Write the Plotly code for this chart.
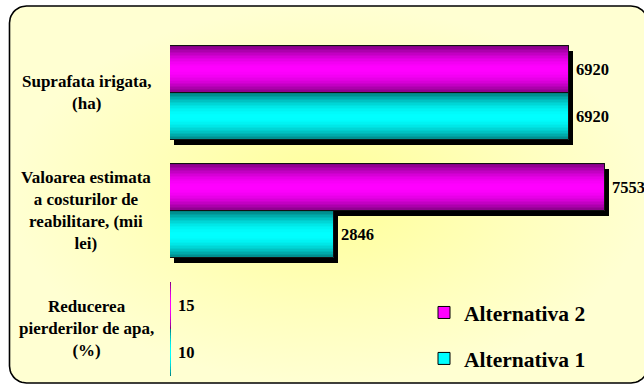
import numpy as np
import plotly.graph_objects as go

# ---- data -----------------------------------------------------------------
categories = [
    "Suprafata irigata,<br>(ha)",
    "Valoarea estimata<br>a costurilor de<br>reabilitare, (mii<br>lei)",
    "Reducerea<br>pierderilor de apa,<br>(%)",
]
alternativa_2 = [6920, 7553, 15]
alternativa_1 = [6920, 2846, 10]
series_names = ["Alternativa 2", "Alternativa 1"]

# ---- page geometry -----------------------------------------------------------
W, H = 644, 385
PLOT_L, PLOT_T = 170, 34          # plot area offsets in px
X_MAX = 8221                      # value axis range
Y_TOP, Y_BOTTOM = -0.5, 2.475     # category axis (reversed)
px_x = (W - PLOT_L) / X_MAX
px_y = (H - PLOT_T) / (Y_BOTTOM - Y_TOP)

FONT = "Liberation Serif, Times New Roman, serif"
BAR_W = 0.4
N_LAYERS = 16

# colour pairs: (edge, centre) for the cylindrical shading
styles = [
    dict(name=series_names[0], values=alternativa_2, centre=-BAR_W / 2,
         dark=(0x7a, 0x00, 0x7a), bright=(0xff, 0x00, 0xff)),
    dict(name=series_names[1], values=alternativa_1, centre=BAR_W / 2,
         dark=(0x00, 0x78, 0x78), bright=(0x00, 0xff, 0xff)),
]

pos = list(range(len(categories)))


def shade(dark, bright, t):
    g = np.cos(np.clip(t, 0, 1) * np.pi / 2) ** 0.9
    c = [int(round(d + (b - d) * g)) for d, b in zip(dark, bright)]
    return "rgb({},{},{})".format(*c)


def visible_px(v):
    # bars narrower than a couple of pixels get no outline / shadow
    return v * px_x >= 2


fig = go.Figure()

# rounded frame with a soft radial glow, on a full-page helper axis pair
fl, ft, fr, fb, rad = 9.5, 6.0, 648.0, 383.0, 17.0
xs, ys = [], []
for cx, cy, a0 in [(fr - rad, ft + rad, -90), (fr - rad, fb - rad, 0),
                   (fl + rad, fb - rad, 90), (fl + rad, ft + rad, 180)]:
    ang = np.radians(np.linspace(a0, a0 + 90, 12))
    xs += list(cx + rad * np.cos(ang))
    ys += list(cy + rad * np.sin(ang))
xs.append(xs[0]); ys.append(ys[0])
fig.add_trace(go.Scatter(
    x=xs, y=ys, mode="lines", fill="toself",
    fillgradient=dict(type="radial",
                      colorscale=[[0, "#ffff98"], [0.6, "#ffffbc"], [1, "#ffffd2"]]),
    line=dict(color="#000000", width=1.6),
    hoverinfo="skip", showlegend=False, xaxis="x", yaxis="y"))

# drop shadows
dx = 4 / px_x
dy = 5 / px_y
for s in styles:
    fig.add_trace(go.Bar(
        x=s["values"], y=pos, base=dx, orientation="h",
        width=BAR_W, offset=s["centre"] - BAR_W / 2 + dy,
        marker=dict(color=["#000000" if visible_px(v) else "rgba(0,0,0,0)"
                           for v in s["values"]], line=dict(width=0)),
        hoverinfo="skip", showlegend=False, xaxis="x2", yaxis="y2"))

# shaded bars
for s in styles:
    outline = [1 if visible_px(v) else 0 for v in s["values"]]
    # legend entry / base colour
    fig.add_trace(go.Bar(
        x=s["values"], y=pos, orientation="h", name=s["name"],
        width=BAR_W, offset=s["centre"] - BAR_W / 2,
        marker=dict(color=shade(s["dark"], s["bright"], 0),
                    line=dict(color="#000000", width=outline)),
        legendgroup=s["name"], showlegend=True, xaxis="x2", yaxis="y2"))
    for k in range(N_LAYERS):
        h = 1 - k / N_LAYERS
        w = BAR_W * h
        fig.add_trace(go.Bar(
            x=s["values"], y=pos, orientation="h",
            width=w, offset=s["centre"] - w / 2,
            marker=dict(color=shade(s["dark"], s["bright"], h - 0.5 / N_LAYERS),
                        line=dict(width=0)),
            hoverinfo="skip", showlegend=False, xaxis="x2", yaxis="y2"))
    fig.add_trace(go.Bar(
        x=s["values"], y=pos, orientation="h",
        width=BAR_W, offset=s["centre"] - BAR_W / 2,
        marker=dict(color="rgba(0,0,0,0)",
                    line=dict(color="#111111", width=outline)),
        hoverinfo="skip", showlegend=False, xaxis="x2", yaxis="y2"))

annotations = []
# value labels
for s in styles:
    for p, v in zip(pos, s["values"]):
        annotations.append(dict(
            x=v, y=p + s["centre"], xref="x2", yref="y2", text=str(v),
            xanchor="left", yanchor="middle", xshift=5, showarrow=False,
            font=dict(family=FONT, size=16.5, color="#000000", weight="bold")))
# category labels
for p, c in zip(pos, categories):
    annotations.append(dict(
        x=86 / W, y=p, xref="paper", yref="y2", text=c, align="center",
        xanchor="center", yanchor="middle", showarrow=False,
        font=dict(family=FONT, size=17, color="#000000", weight="bold")))

fig.update_layout(
    width=W, height=H,
    margin=dict(l=0, r=0, t=0, b=0),
    paper_bgcolor="#ffffff",
    plot_bgcolor="rgba(0,0,0,0)",
    barmode="overlay",
    bargap=0,
    xaxis=dict(domain=[0, 1], range=[0, W], visible=False, fixedrange=True),
    yaxis=dict(domain=[0, 1], range=[H, 0], visible=False, fixedrange=True),
    xaxis2=dict(domain=[PLOT_L / W, 1], range=[0, X_MAX], visible=False,
                anchor="y2", fixedrange=True),
    yaxis2=dict(domain=[0, 1 - PLOT_T / H], range=[Y_BOTTOM, Y_TOP],
                visible=False, anchor="x2", fixedrange=True),
    showlegend=True,
    legend=dict(x=424 / W, y=1 - 292 / H, xanchor="left", yanchor="top",
                bgcolor="rgba(0,0,0,0)", borderwidth=0,
                traceorder="grouped", tracegroupgap=15,
                font=dict(family=FONT, size=21.5, color="#000000", weight="bold")),
    annotations=annotations,
)

fig.write_html("out.html")
